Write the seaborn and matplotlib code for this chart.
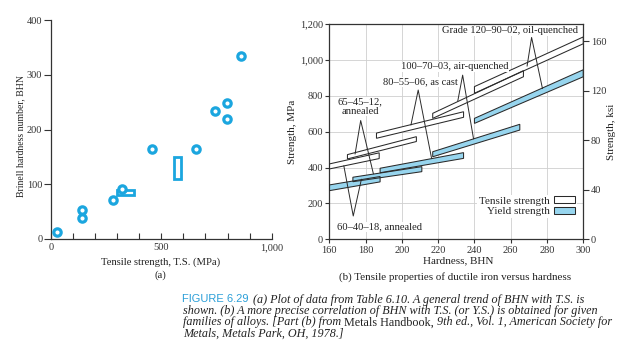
import numpy as np
import pandas as pd
import matplotlib.pyplot as plt
from matplotlib.patches import Patch, Rectangle
import seaborn as sns

sns.set_theme(style="white")
plt.rcParams['font.family'] = ['Liberation Serif', 'DejaVu Serif']

CYAN = "#1ba6df"
BLUE_FILL = "#97d5ee"
EDGE = "#2a2a2a"

# ---- (a) BHN vs tensile strength (Table 6.10) ----
ts_mpa = [30, 140, 140, 284, 321, 459, 658, 745, 796, 799, 861]
bhn = [12, 53, 38, 72, 91, 165, 165, 234, 249, 219, 335]
# two entries given as ranges (drawn as boxes)
range_ts = [(302, 377), (558, 588)]
range_bhn = [(80, 90), (110, 150)]

# ---- (b) ductile iron bands: (hardness start, end), strength at start/end ----
grades = ["60-40-18", "65-45-12", "80-55-06", "100-70-03", "120-90-02"]
ts_hb = [(160, 187.5), (170, 208), (186, 234), (217, 267), (240, 300)]
ts_low = [(392, 450), (448, 545), (563, 680), (674, 906), (814, 1090)]
ts_high = [(420, 482), (472, 572), (592, 711), (702, 940), (851, 1128)]
ys_hb = [(160, 188), (173, 211), (188, 234), (217, 265), (240, 300)]
ys_low = [(271, 320), (321, 377), (371, 451), (460, 609), (646, 906)]
ys_high = [(303, 350), (346, 405), (396, 483), (488, 641), (674, 945)]

# leader lines: (tensile end, apex, yield end) in (BHN, MPa)
leaders = [
    [(168, 410), (173.2, 130), (177.7, 335)],
    [(174.2, 475), (177.3, 662), (184.3, 365)],
    [(205, 637), (209, 832), (216.4, 450)],
    [(230.8, 770), (233.5, 915), (239.5, 560)],
    [(269, 965), (271.5, 1125), (277.5, 840)],
]
labels = ["60–40–18, annealed", "65–45–12,\nannealed", "80–55–06, as cast",
          "100–70–03, air-quenched", "Grade 120–90–02, oil-quenched"]

W, H = 624, 353
fig = plt.figure(figsize=(W / 100, H / 100), dpi=100)

# ================= (a) =================
ax1 = fig.add_axes([50.7 / W, (H - 239) / H, 221 / W, 219 / H])
for (x0, x1), (y0, y1) in zip(range_ts, range_bhn):
    ax1.add_patch(Rectangle((x0, y0), x1 - x0, y1 - y0, facecolor="white",
                            edgecolor=CYAN, lw=2, zorder=2))
df_a = pd.DataFrame({"ts": ts_mpa, "bhn": bhn})
sns.scatterplot(data=df_a, x="ts", y="bhn", ax=ax1, marker="o", s=28,
                color="white", edgecolor=CYAN, linewidth=2.3, zorder=3)
ax1.set_xlim(0, 1000)
ax1.set_ylim(0, 400)
ax1.set_xticks([0, 500, 1000])
ax1.set_xticklabels(["0", "500", "1,000"])
ax1.set_xticks(np.arange(100, 1000, 100), minor=True)
ax1.set_yticks([0, 100, 200, 300, 400])
ax1.tick_params(axis="x", which="both", direction="in", length=4, width=0.8,
                labelsize=7.5, colors="#333333", bottom=True, pad=3)
ax1.tick_params(axis="y", direction="out", length=5, width=0.8, labelsize=7.5,
                colors="#333333", left=True, pad=1)
for s in ["top", "right"]:
    ax1.spines[s].set_visible(False)
for s in ["left", "bottom"]:
    ax1.spines[s].set_color("#333333")
    ax1.spines[s].set_linewidth(0.9)
ax1.set_xlabel("Tensile strength, T.S. (MPa)", fontsize=7.7, color="#222222")
ax1.set_ylabel("Brinell hardness number, BHN", fontsize=7, color="#222222")
ax1.xaxis.set_label_coords(0.495, -0.084)
ax1.yaxis.set_label_coords(-0.115, 0.47)
ax1.text(0.495, -0.166, "(a)", transform=ax1.transAxes, ha="center",
         va="center", fontsize=7.7, color="#222222")

# ================= (b) =================
ax2 = fig.add_axes([329.3 / W, (H - 239.3) / H, 254 / W, 215.3 / H])
ax2.set_axisbelow(True)
ax2.grid(True, color="#cfcfcf", lw=0.6)


def band(hb, lo, hi):
    xs = [hb[0], hb[1], hb[1], hb[0]]
    ys = [lo[0], lo[1], hi[1], hi[0]]
    return xs, ys


for hb, lo, hi in zip(ys_hb, ys_low, ys_high):
    xs, ys = band(hb, lo, hi)
    ax2.fill(xs, ys, facecolor=BLUE_FILL, edgecolor="none", zorder=2)
for hb, lo, hi in zip(ts_hb, ts_low, ts_high):
    xs, ys = band(hb, lo, hi)
    ax2.fill(xs, ys, facecolor="white", edgecolor="none", zorder=2)
for hb, lo, hi in list(zip(ys_hb, ys_low, ys_high)) + list(zip(ts_hb, ts_low, ts_high)):
    xs, ys = band(hb, lo, hi)
    ax2.fill(xs, ys, facecolor="none", edgecolor=EDGE, lw=0.75, zorder=3)

for pts in leaders:
    lx, ly = zip(*pts)
    ax2.plot(lx, ly, color=EDGE, lw=0.7, zorder=4)

txt_kw = dict(fontsize=7.6, color="#222222", zorder=5,
              bbox=dict(facecolor="white", edgecolor="none", pad=0.3))
ax2.text(187.4, 68, labels[0], ha="center", va="center", **txt_kw)
ax2.text(177.0, 740, labels[1], ha="center", va="center", linespacing=1.0, **txt_kw)
ax2.text(210.0, 878, labels[2], ha="center", va="center", **txt_kw)
ax2.text(229.0, 962, labels[3], ha="center", va="center", **txt_kw)
ax2.text(297.0, 1163, labels[4], ha="right", va="center", **txt_kw)

ax2.set_xlim(160, 300)
ax2.set_ylim(0, 1200)
ax2.set_xticks(np.arange(160, 301, 20))
ax2.set_yticks(np.arange(0, 1201, 200))
ax2.set_yticklabels([f"{v:,}" for v in range(0, 1201, 200)])
ax2.tick_params(direction="out", length=3, width=0.8, labelsize=7.5,
                colors="#333333", left=True, bottom=True, pad=1.5)
for s in ax2.spines.values():
    s.set_color("#333333")
    s.set_linewidth(0.9)
ax2.set_xlabel("Hardness, BHN", fontsize=8, color="#222222")
ax2.set_ylabel("Strength, MPa", fontsize=8, color="#222222")
ax2.xaxis.set_label_coords(0.507, -0.078)
ax2.yaxis.set_label_coords(-0.127, 0.5)
ax2.text(0.495, -0.174, "(b) Tensile properties of ductile iron versus hardness",
         transform=ax2.transAxes, ha="center", va="center", fontsize=7.9,
         color="#222222")

ax3 = ax2.twinx()
ax3.set_ylim(0, 1200 / 6.895)
ax3.set_yticks([0, 40, 80, 120, 160])
ax3.tick_params(direction="out", length=4, width=0.8, labelsize=7.5,
                colors="#333333", right=True, pad=1.5)
ax3.grid(False)
for s in ax3.spines.values():
    s.set_visible(False)
ax3.set_ylabel("Strength, ksi", fontsize=8, color="#222222")
ax3.yaxis.set_label_coords(1.095, 0.5)

handles = [Patch(facecolor="white", edgecolor=EDGE, lw=0.75),
           Patch(facecolor=BLUE_FILL, edgecolor=EDGE, lw=0.75)]
leg = ax2.legend(handles, ["Tensile strength", "Yield strength"],
                 markerfirst=False, loc="lower right",
                 bbox_to_anchor=(0.975, 0.10), borderaxespad=0, fontsize=8,
                 handlelength=1.9, handleheight=0.55, handletextpad=0.4,
                 labelspacing=0.1, borderpad=0.15, frameon=True,
                 facecolor="white", edgecolor="none", framealpha=1)
leg.set_zorder(6)

# ================= caption =================
renderer = fig.canvas.get_renderer()
cap_kw = dict(fontsize=8.7, color="#222222", va="baseline", ha="left")


def chain(x_px, base_px, parts, gap=3.0):
    x = x_px
    for s, style in parts:
        t = fig.text(x / W, 1 - base_px / H, s, fontstyle=style, **cap_kw)
        x = t.get_window_extent(renderer=renderer).x1 + gap


fig.text(181.7 / W, 1 - 302.5 / H, "FIGURE 6.29", fontsize=8,
         family=["Liberation Sans Narrow", "Liberation Sans", "DejaVu Sans"],
         color="#2b9fd8", va="baseline", ha="left")
chain(253.3, 302.5, [("(a) Plot of data from Table 6.10. A general trend of BHN with T.S. is", "italic")])
chain(183.3, 314.0, [("shown. (b) A more precise correlation of BHN with T.S. (or Y.S.) is obtained for given", "italic")])
chain(183.3, 325.5, [("families of alloys. [Part (b) from", "italic"),
                     ("Metals Handbook,", "normal"),
                     ("9th ed., Vol. 1, American Society for", "italic")])
chain(183.3, 336.8, [("Metals, Metals Park, OH, 1978.]", "italic")])

fig.savefig("out.png", dpi=100, facecolor="white")
